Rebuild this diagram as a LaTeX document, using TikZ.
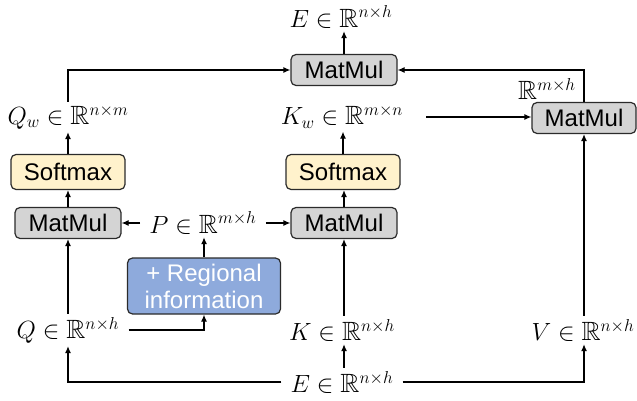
\documentclass[tikz,border=0pt]{standalone}
\usepackage{amssymb}
\usepackage{graphicx}
\usepackage{fontspec}
\newfontfamily\boxfont{Liberation Sans}
\usetikzlibrary{arrows.meta}
\definecolor{graybox}{HTML}{D4D4D4}
\definecolor{softbox}{HTML}{FFF2CC}
\definecolor{regbox}{HTML}{8EAADC}
\definecolor{edge}{HTML}{2B2B2B}
\newcommand{\lblmath}[1]{\scalebox{1.2}{$#1$}}
\tikzset{
  opbox/.style={draw=edge, line width=1.2pt, rounded corners=5pt, inner sep=0pt,
    font=\boxfont\fontsize{24}{27}\selectfont, align=center},
  mmbox/.style={opbox, fill=graybox, minimum width=106pt, minimum height=31pt},
  smbox/.style={opbox, fill=softbox, minimum width=114pt, minimum height=35pt},
  rgbox/.style={opbox, fill=regbox, text=white, minimum width=153pt, minimum height=56pt},
  lbl/.style={inner sep=3pt, font=\fontsize{22}{26}\selectfont},
  conn/.style={line width=1.2pt, draw=black, -{Latex[length=7pt,width=6pt]}},
}
\begin{document}
\begin{tikzpicture}[x=1pt,y=-1pt]
\useasboundingbox (0,0) rectangle (637,401);
% nodes
\node[lbl] (Etop) at (341,17) {\lblmath{E\in\mathbb{R}^{n\times h}}};
\node[mmbox] (mmTop) at (344,70) {MatMul};
\node[lbl] (Qw) at (68,117) {\lblmath{Q_w\in\mathbb{R}^{n\times m}}};
\node[lbl] (Kw) at (342,117) {\lblmath{K_w\in\mathbb{R}^{m\times n}}};
\node[lbl] (Rmh) at (547,89) {\lblmath{\mathbb{R}^{m\times h}}};
\node[mmbox, minimum width=104pt] (mmR) at (584,118) {MatMul};
\node[smbox] (smL) at (68,172) {Softmax};
\node[smbox] (smM) at (343,172) {Softmax};
\node[mmbox] (mmL) at (68,223) {MatMul};
\node[lbl] (P) at (203,223) {\lblmath{P\in\mathbb{R}^{m\times h}}};
\node[mmbox] (mmM) at (344,223) {MatMul};
\node[rgbox] (reg) at (204,286) {+ Regional\\information};
\node[lbl] (Q) at (68,330) {\lblmath{Q\in\mathbb{R}^{n\times h}}};
\node[lbl] (K) at (342,330) {\lblmath{K\in\mathbb{R}^{n\times h}}};
\node[lbl] (V) at (583,330) {\lblmath{V\in\mathbb{R}^{n\times h}}};
\node[lbl] (Ebot) at (342,382) {\lblmath{E\in\mathbb{R}^{n\times h}}};
% connectors
\draw[conn] (mmTop.north) -- (mmTop.north |- Etop.south);
\draw[conn] (Qw.north) |- (mmTop.west);
\draw[conn] (mmR.north) |- (mmTop.east);
\draw[conn] ([xshift=20pt]Kw.east) -- (mmR.west |- Kw.east);
\draw[conn] (smL.north) -- (Qw.south);
\draw[conn] (mmL.north) -- (smL.south);
\draw[conn] (smM.north) -- (smM.north |- Kw.south);
\draw[conn] (mmM.north) -- (mmM.north |- smM.south);
\draw[conn] ([xshift=-6pt]P.west) -- (mmL.east);
\draw[conn] ([xshift=6pt]P.east) -- (mmM.west);
\draw[conn] (reg.north) -- (reg.north |- P.south);
\draw[conn] ([xshift=6pt]Q.east) -| (reg.south);
\draw[conn] (Q.north) -- (mmL.south);
\draw[conn] (mmM.south |- K.north) -- (mmM.south);
\draw[conn] (mmR.south |- V.north) -- (mmR.south);
\draw[conn] (mmM.south |- Ebot.north) -- (mmM.south |- K.south);
\draw[conn] ([xshift=-6pt]Ebot.west) -| (Q.south);
\draw[conn] ([xshift=6pt]Ebot.east) -| (mmR.south |- V.south);
\end{tikzpicture}
\end{document}
